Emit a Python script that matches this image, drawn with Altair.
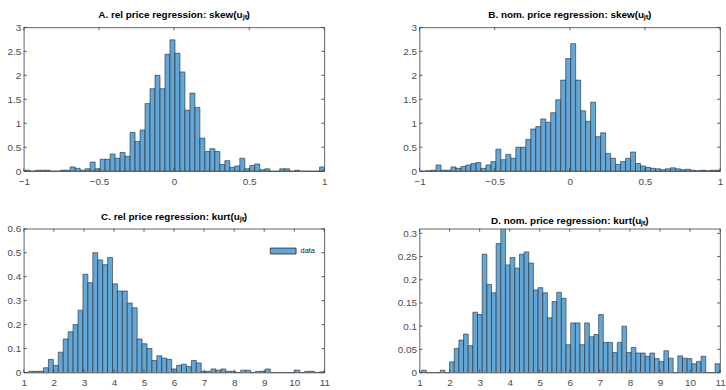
import altair as alt
import pandas as pd

# ---------------- data (histogram bin heights) ----------------
a_start, a_width = -0.99, 0.0332
a_heights = [0.02, 0.0, 0.02, 0.02, 0.02, 0.0, 0.0, 0.02, 0.02, 0.09,
             0.06, 0.02, 0.05, 0.19, 0.05, 0.25, 0.25, 0.36, 0.27, 0.39,
             0.31, 0.81, 0.62, 0.86, 1.41, 1.72, 2.0, 1.72, 2.44, 2.74,
             2.46, 2.07, 1.27, 1.63, 1.33, 0.69, 0.41, 0.47, 0.41, 0.14,
             0.22, 0.08, 0.11, 0.27, 0.05, 0.12, 0.15, 0.03, 0.05, 0.0,
             0.0, 0.05, 0.05, 0.0, 0.02, 0.0, 0.0, 0.0, 0.0, 0.09]

b_start, b_width = -0.99, 0.0332
b_heights = [0.0, 0.01, 0.02, 0.13, 0.02, 0.02, 0.09, 0.06, 0.10, 0.13,
             0.16, 0.18, 0.06, 0.13, 0.20, 0.46, 0.24, 0.35, 0.27, 0.50,
             0.50, 0.66, 0.88, 0.93, 1.09, 1.02, 1.22, 1.49, 1.90, 2.35,
             2.66, 1.90, 1.26, 1.04, 1.44, 0.72, 0.80, 0.37, 0.27, 0.14,
             0.20, 0.27, 0.40, 0.16, 0.11, 0.08, 0.06, 0.05, 0.03, 0.05,
             0.07, 0.05, 0.03, 0.04, 0.02, 0.01, 0.02, 0.01, 0.02, 0.02]

c_start, c_width = 1.0, 0.164
c_heights = [0.0, 0.005, 0.005, 0.005, 0.02, 0.055, 0.03, 0.085, 0.14, 0.17,
             0.20, 0.26, 0.41, 0.375, 0.50, 0.47, 0.45, 0.48, 0.37, 0.34,
             0.34, 0.29, 0.27, 0.14, 0.12, 0.10, 0.05, 0.07, 0.06, 0.055,
             0.015, 0.03, 0.035, 0.025, 0.05, 0.04, 0.005, 0.005, 0.015, 0.01,
             0.015, 0.005, 0.005, 0.0, 0.01, 0.01, 0.0, 0.005, 0.005, 0.015,
             0.0, 0.0, 0.0, 0.0, 0.0, 0.01, 0.0, 0.005, 0.005, 0.0, 0.003]

d_start, d_width = 1.07, 0.155
d_heights = [0.005, 0.0, 0.0, 0.0, 0.005, 0.0, 0.023, 0.052, 0.07, 0.083,
             0.058, 0.13, 0.125, 0.255, 0.19, 0.172, 0.278, 0.31, 0.232, 0.248,
             0.225, 0.255, 0.26, 0.236, 0.178, 0.183, 0.172, 0.118, 0.153, 0.173,
             0.16, 0.06, 0.107, 0.107, 0.06, 0.107, 0.077, 0.082, 0.125, 0.065,
             0.065, 0.043, 0.065, 0.10, 0.043, 0.054, 0.042, 0.042, 0.035, 0.042,
             0.03, 0.024, 0.047, 0.031, 0.0, 0.036, 0.031, 0.03, 0.019, 0.024,
             0.035, 0.0, 0.0, 0.019]

skew_xticks = [-1, -0.5, 0, 0.5, 1]
skew_yticks = [0, 0.5, 1, 1.5, 2, 2.5, 3]
kurt_xticks = [1, 2, 3, 4, 5, 6, 7, 8, 9, 10, 11]
c_yticks = [0, 0.1, 0.2, 0.3, 0.4, 0.5, 0.6]
d_yticks = [0, 0.05, 0.1, 0.15, 0.2, 0.25, 0.3]

titles = ["A. rel price regression: skew(uⱼₜ)",
          "B. nom. price regression: skew(uⱼₜ)",
          "C. rel price regression: kurt(uⱼₜ)",
          "D. nom. price regression: kurt(uⱼₜ)"]
legend_label = "data"

# ---------------- style ----------------
FONT = "Liberation Sans"
FILL = "#62A7D8"
EDGE = "#262626"
AX = "#3a3a3a"
W, H = 303, 145
TL = 3


def panel(title, start, width, heights, xdom, ydom, xticks, yticks, legend=False):
    n = len(heights)
    df = pd.DataFrame({
        "x0": [start + i * width for i in range(n)],
        "x1": [start + (i + 1) * width for i in range(n)],
        "h": heights,
        "s": [legend_label] * n,
    })
    xs = alt.Scale(domain=xdom, nice=False, zero=False)
    ys = alt.Scale(domain=ydom, nice=False, zero=False)
    ax_common = dict(ticks=False, domain=False, grid=False, labelFont=FONT,
                     labelFontSize=10, labelColor="#4a4a4a", labelOverlap=False,
                     labelFlush=False, title=None, format="~g")
    xaxis = alt.Axis(values=xticks, labelPadding=5, **ax_common)
    yaxis = alt.Axis(values=yticks, labelPadding=3, **ax_common)
    enc = dict(
        x=alt.X("x0:Q", scale=xs, axis=xaxis),
        x2="x1:Q",
        y=alt.Y("h:Q", scale=ys, axis=yaxis),
        y2=alt.datum(0),
    )
    if legend:
        enc["color"] = alt.Color(
            "s:N",
            scale=alt.Scale(domain=[legend_label], range=[FILL]),
            legend=alt.Legend(title=None, orient="top-right", offset=9, padding=0,
                              symbolType="M-1,-0.23H1V0.23H-1Z", symbolSize=676,
                              symbolStrokeColor=EDGE, symbolStrokeWidth=0.8,
                              symbolOpacity=1, labelFont=FONT, labelFontSize=7.5,
                              labelColor="#222", labelOffset=4),
        )
        bars = alt.Chart(df).mark_rect(clip=True, stroke=EDGE, strokeWidth=0.6, opacity=1).encode(**enc)
    else:
        bars = alt.Chart(df).mark_rect(clip=True, fill=FILL, stroke=EDGE, strokeWidth=0.6,
                                       opacity=1).encode(**enc)

    xt = pd.DataFrame({"x0": xticks})
    yt = pd.DataFrame({"h": yticks})
    rule = dict(color=AX, strokeWidth=0.8)
    bot = alt.Chart(xt).mark_rule(**rule).encode(
        x=alt.X("x0:Q", scale=xs, axis=xaxis), y=alt.value(H), y2=alt.value(H - TL))
    top = alt.Chart(xt).mark_rule(**rule).encode(
        x=alt.X("x0:Q", scale=xs, axis=xaxis), y=alt.value(0), y2=alt.value(TL))
    left = alt.Chart(yt).mark_rule(**rule).encode(
        y=alt.Y("h:Q", scale=ys, axis=yaxis), x=alt.value(0), x2=alt.value(TL))
    right = alt.Chart(yt).mark_rule(**rule).encode(
        y=alt.Y("h:Q", scale=ys, axis=yaxis), x=alt.value(W), x2=alt.value(W - TL))

    return alt.layer(bars, bot, top, left, right).properties(
        width=W, height=H,
        title=alt.TitleParams(text=title, font=FONT, fontSize=10, fontWeight="bold",
                              color="black", offset=2, anchor="middle"),
    )


pa = panel(titles[0], a_start, a_width, a_heights, [-1, 1], [0, 3], skew_xticks, skew_yticks)
pb = panel(titles[1], b_start, b_width, b_heights, [-1, 1], [0, 3], skew_xticks, skew_yticks)
pc = panel(titles[2], c_start, c_width, c_heights, [1, 11], [0, 0.6], kurt_xticks, c_yticks, legend=True)
pd_ = panel(titles[3], d_start, d_width, d_heights, [1, 11], [0, 0.31], kurt_xticks, d_yticks)

chart = alt.concat(pa, pb, pc, pd_, columns=2, spacing={"row": 58, "column": 96},
                   bounds="flush").resolve_scale(
    x="independent", y="independent", color="independent"
).resolve_legend(color="independent").properties(
    padding={"left": 6, "top": 8, "right": 0, "bottom": 0},
    background="white",
).configure_view(stroke=AX, strokeWidth=0.8)

chart.save("out.html", embed_options={"renderer": "svg", "actions": False})
